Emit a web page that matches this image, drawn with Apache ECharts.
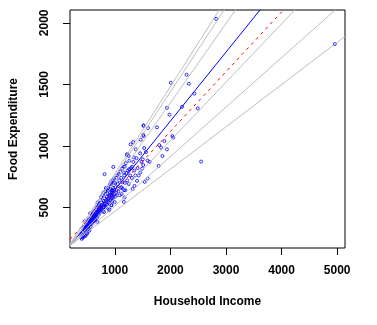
<!DOCTYPE html>
<html>
<head>
<meta charset="utf-8">
<script src="https://cdn.jsdelivr.net/npm/echarts@6/dist/echarts.min.js"></script>
<style>html,body{margin:0;padding:0;background:#fff;}#c{width:377px;height:325px;}</style>
</head>
<body>
<div id="c"></div>
<script>
// Axis ranges and tick labels
var xRange = [193.8, 5141.0];
var yRange = [170.7, 2104.3];
var xTicks = [1000, 2000, 3000, 4000, 5000];
var yTicks = [500, 1000, 1500, 2000];

// Household income and food expenditure
var income = [
420.2,541.4,901.2,639.1,750.9,945.8,829.4,979.2,1309.9,1492.2,
502.8,616.7,790.9,555.9,713.4,838.8,535.1,596.4,924.6,487.8,
692.6,997.9,507.0,654.2,933.9,433.7,587.6,896.5,454.5,585.0,
800.8,502.4,713.5,906.0,880.6,796.8,854.9,1167.4,523.8,670.8,
377.1,851.5,1121.1,625.5,805.5,558.6,884.4,1257.5,2051.2,1466.3,
730.1,2432.4,940.9,1177.9,1222.6,1519.6,687.7,953.1,953.1,953.1,
939.0,1283.4,1511.6,1342.6,511.8,689.8,
2822,4957.8,2552,2007,2292,2332,2210,1938,1984,2493,
2036,1892,1799,1833,1938,1857,1788,1516,1597,1759,
1516,1528,1503,1590,1625,1510,1590,1538,1399,1354,
1458,1330,1377,1220,1248,1163,1174,1163,816,972,
399,412,428,445,451,463,470,478,485,492,
498,510,518,525,532,540,546,552,560,566,
571,578,583,590,597,603,609,614,620,627,
633,641,646,652,658,664,671,677,683,690,
696,702,708,715,721,727,734,740,746,752,
758,765,771,778,784,790,797,803,810,
822,829,835,842,848,855,861,868,874,880,
887,893,900,906,912,919,925,931,938,944,
950,957,963,970,976,983,990,996,1003,1010,
1018,1025,1033,1040,1048,1055,1063,1072,1080,1090,
1098,1105,1115,1123,1132,1140,1150,1160,1170,1180,
1190,1200,1210,1222,1235,1248,1262,1275,1290,1305,
1320,1335,1350,1370,1390,1410,1430,1455,1480,1560,
405,418,440,455,470,486,500
];
var foodexp = [
255.8,311.0,485.7,403.0,495.6,633.8,630.8,700.4,831.0,815.4,
338.0,412.4,520.0,452.4,512.7,658.8,392.6,443.6,640.1,333.8,
467.0,543.4,317.7,424.3,519.0,338.0,419.6,476.3,386.4,423.3,
503.4,354.6,497.3,588.5,654.6,550.7,528.4,640.5,401.3,436.0,
276.6,588.3,664.2,444.9,462.9,377.8,553.2,810.9,1068.0,1049.9,
522.7,1424.8,517.9,831.0,925.6,1162.0,383.5,621.1,548.6,583.2,
692.6,1012.8,1089.6,906.5,385.5,541.0,
2032.7,1827.0,873,1513,1578,1505,1318,1310,1254,1305,
1080,1040,1007,986,972,918,837,1167,1145,1151,
1080,983,891,881,870,845,735,708,716,675,
784,1032,972,932,918,784,581,545,770,829,
280,265,300,292,330,310,345,299,360,322,
347,305,372,340,355,330,395,362,410,345,
388,420,368,402,381,437,395,455,420,390,
470,428,445,398,480,436,462,500,420,455,
505,470,440,528,480,455,560,495,470,585,
510,480,540,600,470,555,620,505,575,
530,610,500,645,560,590,520,640,612,570,
660,540,625,600,690,560,650,710,600,575,
640,720,610,660,580,735,640,610,700,665,
590,740,640,600,760,690,630,770,720,600,
790,660,740,610,815,705,650,830,760,700,
640,860,780,720,800,690,880,760,820,740,
650,870,800,760,900,820,760,940,870,950,
245,256,262,275,268,290,285
];

// Regression lines: intercepts and slopes
var quantileTaus = [0.05, 0.10, 0.25, 0.75, 0.90, 0.95];
var quantileIntercepts = [124.880, 110.142, 95.484, 62.397, 67.351, 64.104];
var quantileSlopes = [0.34336, 0.40177, 0.47410, 0.64401, 0.68630, 0.70907];
var medianFit = [81.482, 0.56018];
var olsFit = [147.475, 0.48518];

var points = income.map(function (v, i) { return [v, foodexp[i]]; });
function lineData(a, b) {
  return [[xRange[0], a + b * xRange[0]], [xRange[1], a + b * xRange[1]]];
}

var series = [{
  type: 'scatter',
  data: points,
  symbol: 'circle',
  symbolSize: 3,
  itemStyle: { color: 'rgba(0,0,0,0)', borderColor: '#0000FF', borderWidth: 1 },
  silent: true, animation: false
}, {
  type: 'line', data: lineData(medianFit[0], medianFit[1]), showSymbol: false,
  lineStyle: { color: '#0000FF', width: 1 }, clip: true, animation: false, silent: true
}, {
  type: 'line', data: lineData(olsFit[0], olsFit[1]), showSymbol: false,
  lineStyle: { color: '#FF0000', width: 1, type: [3, 4] }, clip: true, animation: false, silent: true
}];
quantileTaus.forEach(function (t, i) {
  series.push({
    type: 'line', name: 'tau ' + t, data: lineData(quantileIntercepts[i], quantileSlopes[i]),
    showSymbol: false, lineStyle: { color: '#BEBEBE', width: 1 }, clip: true,
    animation: false, silent: true
  });
});

var labelFont = { color: '#000', fontFamily: 'Liberation Sans, Arial, sans-serif', fontSize: 12, fontWeight: 'bold' };
function plain(v) { return String(v); }

var chart = echarts.init(document.getElementById('c'), null, { renderer: 'canvas' });
chart.setOption({
  animation: false,
  backgroundColor: '#fff',
  grid: { left: 61, top: 10, width: 284, height: 238, show: true, borderColor: '#000', borderWidth: 1, backgroundColor: 'transparent', containLabel: false },
  xAxis: {
    type: 'value', min: xRange[0], max: xRange[1],
    name: 'Household Income', nameLocation: 'middle', nameGap: 48,
    nameTextStyle: labelFont,
    axisLine: { show: false },
    splitLine: { show: false },
    axisTick: { show: true, inside: false, length: 7, customValues: xTicks, lineStyle: { color: '#000', width: 1 } },
    axisLabel: Object.assign({ margin: 17, customValues: xTicks, formatter: plain }, labelFont)
  },
  yAxis: {
    type: 'value', min: yRange[0], max: yRange[1],
    name: 'Food Expenditure', nameLocation: 'middle', nameGap: 50, nameRotate: 90,
    nameTextStyle: labelFont,
    axisLine: { show: false },
    splitLine: { show: false },
    axisTick: { show: true, inside: false, length: 7, customValues: yTicks, lineStyle: { color: '#000', width: 1 } },
    axisLabel: Object.assign({ margin: 19, rotate: 90, customValues: yTicks, formatter: plain }, labelFont)
  },
  series: series
});
</script>
</body>
</html>
